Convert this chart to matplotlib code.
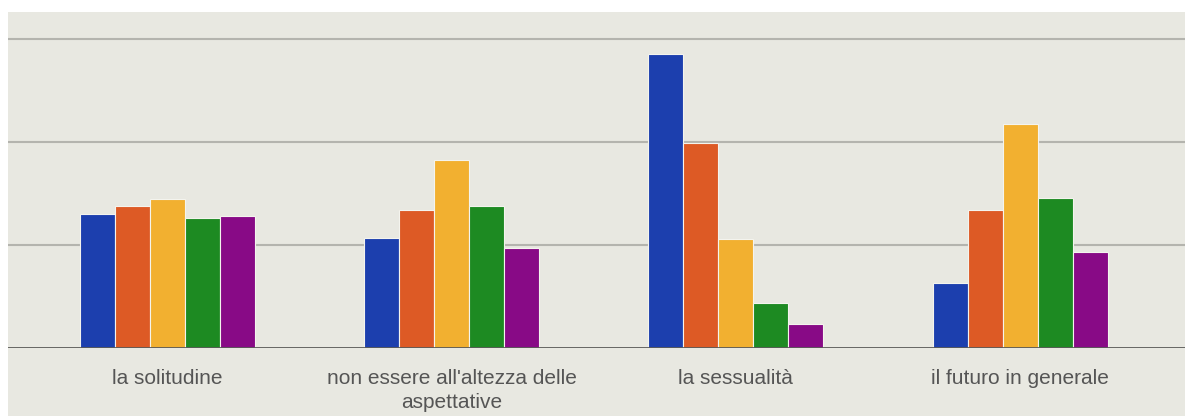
import matplotlib.pyplot as plt
import numpy as np
from matplotlib.patches import Rectangle

categories = [
    "la solitudine",
    "non essere all'altezza delle\naspettative",
    "la sessualità",
    "il futuro in generale",
]
series_blue = [1.30, 1.07, 2.85, 0.63]
series_orange = [1.38, 1.34, 1.99, 1.34]
series_yellow = [1.45, 1.83, 1.06, 2.17]
series_green = [1.26, 1.38, 0.44, 1.46]
series_purple = [1.28, 0.97, 0.23, 0.93]
grid_values = [1, 2, 3]

series = [series_blue, series_orange, series_yellow, series_green, series_purple]
colors = ["#1c3fae", "#dd5a25", "#f2b030", "#1d8a22", "#880a86"]

W, H = 1185, 416
fig = plt.figure(figsize=(W / 100, H / 100), dpi=100, facecolor="white")

# screen background (photo edge leaves a white strip top and left)
fig.patches.append(
    Rectangle((8 / W, 0), 1 - 8 / W, 1 - 12 / H, transform=fig.transFigure,
              facecolor="#e8e8e1", edgecolor="none", zorder=-10)
)

ax = fig.add_axes([8 / W, (H - 348) / H, 1 - 8 / W, (348 - 12) / H])
ax.set_facecolor("none")

x = np.arange(len(categories))
n = len(series)
group_w = 0.616
bar_w = group_w / n
for i, (vals, col) in enumerate(zip(series, colors)):
    ax.bar(x - group_w / 2 + bar_w * (i + 0.5), vals, width=bar_w,
           color=col, edgecolor="#f4f4ee", linewidth=0.8, zorder=3)

for g in grid_values:
    ax.axhline(g, color="#b4b4ae", linewidth=1.5, zorder=1)
ax.axhline(0, color="#5a5a58", linewidth=2, zorder=4)

ax.set_xlim(-0.56, 3.58)
ax.set_ylim(0, (348 - 12) / 103)
ax.set_xticks(x)
ax.set_xticklabels(categories, fontsize=15, color="#555555",
                   family="Liberation Sans", linespacing=1.34)
ax.tick_params(axis="x", length=0, pad=15)
ax.set_yticks([])
for s in ax.spines.values():
    s.set_visible(False)

fig.savefig("out.png", dpi=100, facecolor=fig.get_facecolor())
